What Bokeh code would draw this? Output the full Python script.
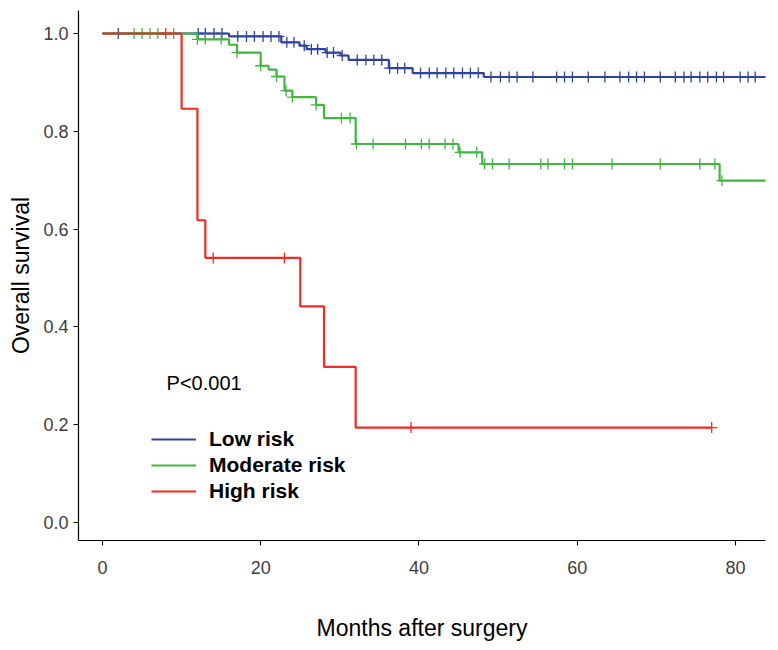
import numpy as np
from bokeh.plotting import figure
from bokeh.models import Range1d, FixedTicker, PrintfTickFormatter, Legend, LegendItem, Label
from bokeh.embed import file_html
from bokeh.resources import INLINE

# ---- data ----
groups = ["Low risk", "Moderate risk", "High risk"]

low_time = [0, 16, 22.6, 24.9, 25.8, 28.2, 30.1, 31.1, 36.2, 39.2, 48.2]
low_surv = [1.0, 0.994, 0.982, 0.975, 0.968, 0.961, 0.955, 0.946, 0.929, 0.919, 0.911]
low_end = 84
low_censor = [2, 12.1, 13, 14.1, 15.1, 17.1, 18.2, 19.2, 20.3, 21.3, 22.3, 23.3, 24.2, 25.5,
              26.4, 27.2, 28.4, 29.2, 30.3, 32.2, 33.3, 34.3, 35.3, 36.3, 37.3, 38.2, 40.2,
              41.3, 42.3, 43.4, 44.4, 45.5, 46.5, 47.5, 49.1, 50.3, 51.4, 52.4, 54.4, 57.4,
              58.4, 59.4, 61.4, 63.5, 65.4, 66.5, 67.5, 68.5, 70.5, 72.4, 73.5, 74.4, 75.5,
              76.5, 77.6, 78.5, 80.6, 81.6, 82.5]

mod_time = [0, 12, 16, 17, 20, 21, 22, 23, 24, 27, 28, 32, 45, 48, 78]
mod_surv = [1.0, 0.988, 0.977, 0.961, 0.934, 0.926, 0.912, 0.883, 0.870, 0.854, 0.827,
            0.774, 0.757, 0.733, 0.699]
mod_end = 84
mod_censor = [4, 5, 6, 7, 9, 12, 13, 15, 17, 20, 22, 23.2, 24, 27, 30.2, 31.3, 32.1, 34.2,
              38.3, 40.3, 41.3, 43.3, 44.3, 45.2, 47.3, 48.3, 49.3, 51.4, 55.4, 56.3, 58.4,
              59.4, 64.4, 70.5, 75.5, 77.4, 78.3]

high_time = [0, 10, 12, 13, 25, 28, 32]
high_surv = [1.0, 0.846, 0.618, 0.541, 0.442, 0.318, 0.194]
high_end = 77
high_censor = [8, 14, 23, 39, 77]

colors = ["#2F4499", "#43B543", "#EE2C22"]

x_ticks = [0, 20, 40, 60, 80]
y_ticks = [0.0, 0.2, 0.4, 0.6, 0.8, 1.0]
p_text = "P<0.001"

FONT = "Liberation Sans"

p = figure(width=770, height=645, output_backend="svg", toolbar_location=None,
           x_range=Range1d(-3.03, 83.8), y_range=Range1d(-0.037, 1.047),
           min_border_left=78, min_border_right=5, min_border_top=10, min_border_bottom=105)
p.outline_line_color = None
p.xgrid.visible = False
p.ygrid.visible = False
p.background_fill_color = "white"

def censor_y(times, surv, ct):
    t = np.array(times)
    s = np.array(surv)
    idx = np.searchsorted(t, np.array(ct), side="right") - 1
    return s[idx]

series = [(low_time, low_surv, low_end, low_censor),
          (mod_time, mod_surv, mod_end, mod_censor),
          (high_time, high_surv, high_end, high_censor)]

items = []
for (t, s, end, cen), col, name in zip(series, colors, groups):
    xs = list(t) + [end]
    ys = list(s) + [s[-1]]
    r = p.step(xs, ys, mode="after", line_color=col, line_width=2.2)
    p.scatter(cen, censor_y(t, s, cen), marker="cross", size=11, line_color=col, line_width=1.3)
    items.append(LegendItem(label=name, renderers=[r]))

legend = Legend(items=items, location=(73, 37), background_fill_alpha=0,
                border_line_color=None, padding=0, spacing=2, glyph_width=45,
                glyph_height=22, label_standoff=13, label_text_font=FONT,
                label_text_font_style="bold", label_text_font_size="21px",
                label_text_color="black", label_height=22, margin=0)
p.add_layout(legend, "center")

p.add_layout(Label(x=8.1, y=0.285, text=p_text, text_font=FONT, text_font_size="20px",
                   text_color="black", text_align="left", text_baseline="middle"))

for ax in (p.xaxis[0], p.yaxis[0]):
    ax.axis_line_color = "black"
    ax.axis_line_width = 1.2
    ax.major_tick_line_color = "black"
    ax.major_tick_line_width = 1.1
    ax.major_tick_out = 5
    ax.major_tick_in = 0
    ax.minor_tick_line_color = None
    ax.major_label_text_font = FONT
    ax.major_label_text_font_size = "18px"
    ax.major_label_text_color = "#3D3D3D"
    ax.axis_label_text_font = FONT
    ax.axis_label_text_font_size = "23px"
    ax.axis_label_text_font_style = "normal"
    ax.axis_label_text_color = "black"

p.xaxis.ticker = FixedTicker(ticks=x_ticks)
p.yaxis.ticker = FixedTicker(ticks=y_ticks)
p.yaxis.formatter = PrintfTickFormatter(format="%.1f")
p.xaxis.axis_label = "Months after surgery"
p.yaxis.axis_label = "Overall survival"
p.xaxis.major_label_standoff = 15
p.xaxis.axis_label_standoff = 38
p.yaxis.major_label_standoff = 5
p.yaxis.axis_label_standoff = 6

open("out.html", "w").write(file_html(p, INLINE))
